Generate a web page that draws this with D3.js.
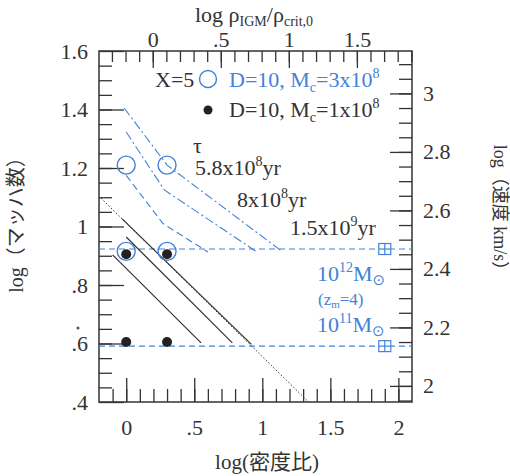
<!DOCTYPE html>
<html>
<head>
<meta charset="utf-8">
<script src="https://cdn.jsdelivr.net/npm/d3@7"></script>
<style>
  body { margin: 0; background: #fff; }
  svg text { font-family: "Liberation Serif", "DejaVu Serif", "Times New Roman", serif, "Noto Sans CJK JP"; fill: #333; }
</style>
</head>
<body>
<svg id="canvas" width="510" height="476"></svg>
<script>
// ---- data ----
// open blue circles (X=5, D=10, Mc=3x10^8)
let openX = [0, 0.3, 0, 0.3];
let openY = [1.21, 1.21, 0.915, 0.915];
// filled black dots (D=10, Mc=1x10^8)
let dotX = [0, 0.3, 0, 0.3];
let dotY = [0.905, 0.905, 0.605, 0.605];

// tau curves (blue), label order 5.8e8, 8e8, 1.5e9
let tauLabels = ["5.8x10", "8x10", "1.5x10"];
let tauExp = ["8", "8", "9"];
let tauCurves = [
    [[0.0, 1.175], [0.27, 1.01], [0.6, 0.913]],
    [[0.0, 1.323], [0.28, 1.125], [0.96, 0.913]],
    [[-0.015, 1.405], [0.3, 1.21], [1.15, 0.913]]
];

// black lines
let dottedLine = [[-0.185, 1.097], [1.34, 0.40]];
let solidLines = [
    [[-0.03, 1.026], [0.92, 0.597]],
    [[0.0, 0.964], [0.78, 0.602]],
    [[-0.1, 0.903], [0.55, 0.602]]
];

// halo mass levels (blue dashed)
let massExp = ["12", "11"];
let massY = [0.923, 0.591];
let massBoxX = 1.9;

// axis ticks
let bottomMajor = [0, 0.5, 1, 1.5, 2];
let topMajor = [0, 0.5, 1, 1.5];
let leftMajor = [0.4, 0.6, 0.8, 1, 1.2, 1.4, 1.6];
let rightMajor = [2, 2.2, 2.4, 2.6, 2.8, 3];

// ---- layout ----
let svg = d3.select("#canvas");
let L = 99, R = 412, T = 51, B = 402;
let blue = "#4282d8";
let ink = "#333";

let x = d3.scaleLinear().domain([-0.2, 2.1]).range([L, R]);
let xTop = d3.scaleLinear().domain([-0.395, 1.905]).range([L, R]);
let y = d3.scaleLinear().domain([0.4, 1.6]).range([B, T]);
let yRight = d3.scaleLinear().domain([1.945, 3.145]).range([B, T]);

let fmt = (d) => {
    let s = String(Math.round(d * 100) / 100);
    return s.replace(/^0\./, ".");
}
let minor = (a, b, step) => d3.range(Math.round(a / step), Math.round(b / step) + 1).map(i => +(i * step).toFixed(3));

let styleAxis = (g) => {
    g.attr("font-family", null);
    g.select(".domain").remove();
    g.selectAll("line").attr("stroke", ink).attr("stroke-width", 1.3);
    g.selectAll("text").style("font-size", "22px").attr("fill", ink);
}

// bottom
svg.append("g").attr("transform", `translate(0,${B})`)
    .call(d3.axisBottom(x).tickValues(minor(-0.1, 2.0, 0.1)).tickSize(-13).tickFormat(""))
    .call(styleAxis);
svg.append("g").attr("transform", `translate(0,${B})`)
    .call(d3.axisBottom(x).tickValues(bottomMajor).tickSize(-24).tickPadding(17).tickFormat(fmt))
    .call(styleAxis);

// top
svg.append("g").attr("transform", `translate(0,${T})`)
    .call(d3.axisTop(xTop).tickValues(minor(-0.3, 1.9, 0.1)).tickSize(-11).tickFormat(""))
    .call(styleAxis);
svg.append("g").attr("transform", `translate(0,${T})`)
    .call(d3.axisTop(xTop).tickValues(topMajor).tickSize(-17).tickPadding(4).tickFormat(fmt))
    .call(styleAxis);

// left
svg.append("g").attr("transform", `translate(${L},0)`)
    .call(d3.axisLeft(y).tickValues(minor(0.45, 1.55, 0.05)).tickSize(-13).tickFormat(""))
    .call(styleAxis);
svg.append("g").attr("transform", `translate(${L},0)`)
    .call(d3.axisLeft(y).tickValues(leftMajor).tickSize(-25).tickPadding(11).tickFormat(fmt))
    .call(styleAxis);

// right
svg.append("g").attr("transform", `translate(${R},0)`)
    .call(d3.axisRight(yRight).tickValues(minor(1.95, 3.1, 0.05)).tickSize(-13).tickFormat(""))
    .call(styleAxis);
svg.append("g").attr("transform", `translate(${R},0)`)
    .call(d3.axisRight(yRight).tickValues(rightMajor).tickSize(-22).tickPadding(11).tickFormat(fmt))
    .call(styleAxis);

// frame
svg.append("rect")
    .attr("x", L).attr("y", T).attr("width", R - L).attr("height", B - T)
    .attr("fill", "none").attr("stroke", ink).attr("stroke-width", 1.5);

let line = d3.line().x(d => x(d[0])).y(d => y(d[1]));

// mass levels
svg.selectAll(".mass")
    .data(massY)
    .enter()
    .append("line")
    .attr("x1", L).attr("x2", R)
    .attr("y1", d => y(d)).attr("y2", d => y(d))
    .attr("stroke", blue).attr("stroke-width", 1.2)
    .attr("stroke-dasharray", "6,4");

let boxes = svg.selectAll(".box")
    .data(massY)
    .enter()
    .append("g")
    .attr("transform", d => `translate(${x(massBoxX)},${y(d)})`);
boxes.append("rect")
    .attr("x", -6).attr("y", -5.5).attr("width", 12).attr("height", 11)
    .attr("fill", "white").attr("stroke", blue).attr("stroke-width", 1.2);
boxes.append("line")
    .attr("x1", 0).attr("x2", 0).attr("y1", -5.5).attr("y2", 5.5)
    .attr("stroke", blue).attr("stroke-width", 1.2);
boxes.append("line")
    .attr("x1", -6).attr("x2", 6).attr("y1", 0).attr("y2", 0)
    .attr("stroke", blue).attr("stroke-width", 1.2);

// tau curves
let tauDash = ["7,4", "9,3,2,3", "9,3,2,3"];
svg.selectAll(".tau")
    .data(tauCurves)
    .enter()
    .append("path")
    .attr("d", line)
    .attr("fill", "none")
    .attr("stroke", blue).attr("stroke-width", 1.1)
    .attr("stroke-dasharray", (d, i) => tauDash[i]);

// black lines
svg.append("path")
    .attr("d", line(dottedLine))
    .attr("fill", "none").attr("stroke", ink).attr("stroke-width", 1)
    .attr("stroke-dasharray", "1.5,2");
svg.selectAll(".solid")
    .data(solidLines)
    .enter()
    .append("path")
    .attr("d", line)
    .attr("fill", "none").attr("stroke", ink).attr("stroke-width", 1.2);

// markers
svg.selectAll(".open")
    .data(openX)
    .enter()
    .append("circle")
    .attr("cx", d => x(d))
    .attr("cy", (d, i) => y(openY[i]))
    .attr("r", 9)
    .attr("fill", "none").attr("stroke", blue).attr("stroke-width", 1.4);
svg.selectAll(".dot")
    .data(dotX)
    .enter()
    .append("circle")
    .attr("cx", d => x(d))
    .attr("cy", (d, i) => y(dotY[i]))
    .attr("r", 5)
    .attr("fill", "#222");

// legend
svg.append("text").attr("x", 155).attr("y", 87).style("font-size", "22px").text("X=5");
svg.append("circle").attr("cx", 208).attr("cy", 79).attr("r", 8.5)
    .attr("fill", "none").attr("stroke", blue).attr("stroke-width", 1.4);
svg.append("circle").attr("cx", 208).attr("cy", 110).attr("r", 4.5).attr("fill", "#222");

let legendRow = (yy, val, color) => {
    let t = svg.append("text").attr("x", 229).attr("y", yy).style("font-size", "22px").style("fill", color);
    t.append("tspan").text("D=10, M");
    t.append("tspan").text("c").style("font-size", "14px").attr("dy", 5);
    t.append("tspan").text("=" + val + "x10").attr("dy", -5);
    t.append("tspan").text("8").style("font-size", "14px").attr("dy", -9);
}
legendRow(87, "3", blue);
legendRow(117, "1", ink);

// tau labels
svg.append("text").attr("x", 193).attr("y", 153).style("font-size", "22px").text("τ");
let tauPos = [[195, 175], [237, 207], [290, 235]];
tauLabels.forEach((s, i) => {
    let t = svg.append("text").attr("x", tauPos[i][0]).attr("y", tauPos[i][1]).style("font-size", "22px");
    t.append("tspan").text(s);
    t.append("tspan").text(tauExp[i]).style("font-size", "14px").attr("dy", -9);
    t.append("tspan").text("yr").attr("dy", 9);
});

// mass labels
let massPos = [[317, 281], [317, 332]];
massExp.forEach((e, i) => {
    let t = svg.append("text").attr("x", massPos[i][0]).attr("y", massPos[i][1])
        .style("font-size", "22px").style("fill", blue);
    t.append("tspan").text("10");
    t.append("tspan").text(e).style("font-size", "14px").attr("dy", -9);
    t.append("tspan").text("M").attr("dy", 9);
    t.append("tspan").text("⊙").style("font-size", "15px").attr("dy", 4)
        .style("font-family", "DejaVu Sans");
});
let zt = svg.append("text").attr("x", 318).attr("y", 305).style("font-size", "17px").style("fill", blue);
zt.append("tspan").text("(z");
zt.append("tspan").text("m").style("font-size", "11px").attr("dy", 3);
zt.append("tspan").text("=4)").attr("dy", -3);

// stray mark next to the left axis
svg.append("circle").attr("cx", 78).attr("cy", 328).attr("r", 1.5).attr("fill", "#555");

// axis titles
let tt = svg.append("text").attr("x", 195).attr("y", 22).style("font-size", "22px");
tt.append("tspan").text("log ρ");
tt.append("tspan").text("IGM").style("font-size", "14px").attr("dy", 4);
tt.append("tspan").text("/ρ").attr("dy", -4);
tt.append("tspan").text("crit,0").style("font-size", "14px").attr("dy", 4);

svg.append("text")
    .attr("x", 267).attr("y", 469)
    .attr("text-anchor", "middle")
    .style("font-size", "21px")
    .text("log(密度比)");

svg.append("text")
    .attr("transform", "translate(23,220) rotate(-90)")
    .attr("text-anchor", "middle")
    .style("font-size", "20px")
    .text("log（マッハ数）");

svg.append("text")
    .attr("transform", "translate(494,212) rotate(90)")
    .attr("text-anchor", "middle")
    .style("font-size", "18px")
    .text("log（速度 km/s）");
</script>
</body>
</html>
